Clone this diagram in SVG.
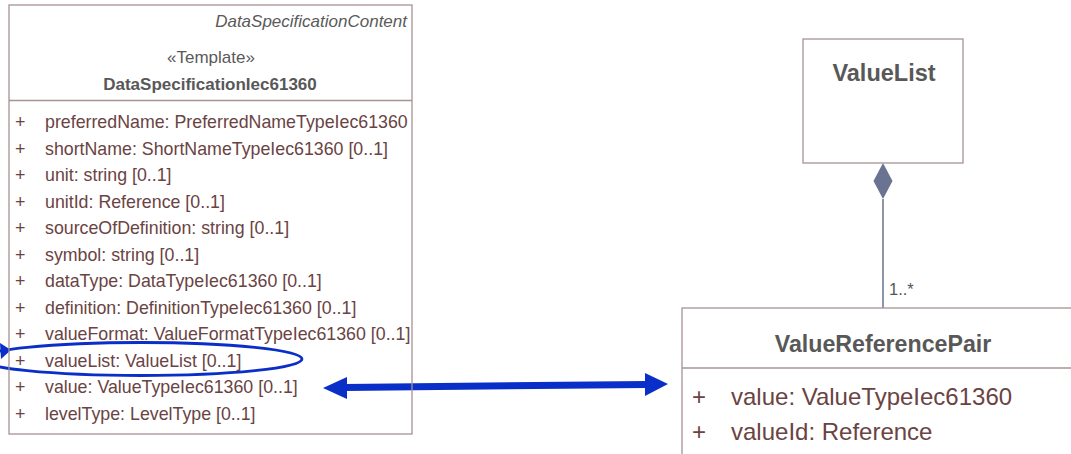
<svg xmlns="http://www.w3.org/2000/svg" width="1071" height="454" viewBox="0 0 1071 454">
  <style>
    .box { fill: none; stroke: #a89393; stroke-width: 1.3; }
    .boxw { fill: #ffffff; stroke: #a89393; stroke-width: 1.3; }
    .sep { stroke: #a89393; stroke-width: 1.3; }
    .hdr { font-family: "Liberation Sans", Arial, sans-serif; fill: #5a5a5a; }
    .ttl { font-family: "Liberation Sans", Arial, sans-serif; font-weight: bold; fill: #585858; }
    .att { font-family: "Liberation Sans", Arial, sans-serif; fill: #6a4343; }
    .mult { font-family: "Liberation Sans", Arial, sans-serif; fill: #555555; font-size: 16.5px; }
    .assoc { stroke: #6a7391; stroke-width: 1.5; fill: none; }
    .hl { stroke: #0a2ec8; fill: none; }
    .hlf { fill: #0a2ec8; }
  </style>

  <rect x="0" y="0" width="1071" height="454" fill="#ffffff"/>

  <!-- highlight marks -->
  <g id="highlights">
    <ellipse class="hl" cx="141" cy="359" rx="161" ry="16.5" stroke-width="2.8"/>
    <polygon class="hlf" points="0,343 11,350 1,359"/>
    <!-- double-headed arrow -->
    <line class="hl" x1="344" y1="387.6" x2="647" y2="384.4" stroke-width="7"/>
    <polygon class="hlf" points="323,388 347,377 347,399"/>
    <polygon class="hlf" points="668,384 645,373 645,396"/>
  </g>

  <!-- connectors -->
  <g id="connectors">
    <line class="assoc" x1="883" y1="199" x2="883" y2="308"/>
    <polygon points="883,163 892.5,181 883,199 873.5,181" fill="#6a7391"/>
    <text class="mult" x="889" y="295">1..*</text>
  </g>

  <!-- DataSpecificationIec61360 -->
  <g id="DataSpecificationIec61360">
    <rect class="box" x="9" y="5" width="403" height="429"/>
    <line class="sep" x1="9" y1="100.5" x2="412" y2="100.5"/>
    <text class="hdr" x="407" y="27" font-size="17" font-style="italic" text-anchor="end">DataSpecificationContent</text>
    <text class="hdr" x="211" y="63" font-size="17" text-anchor="middle">«Template»</text>
    <text class="ttl" x="210" y="90" font-size="17" text-anchor="middle">DataSpecificationIec61360</text>
    <g class="att" font-size="17.8">
      <text x="15" y="128">+</text><text x="45" y="128">preferredName: PreferredNameTypeIec61360</text>
      <text x="15" y="154.5">+</text><text x="45" y="154.5">shortName: ShortNameTypeIec61360 [0..1]</text>
      <text x="15" y="181">+</text><text x="45" y="181">unit: string [0..1]</text>
      <text x="15" y="207.5">+</text><text x="45" y="207.5">unitId: Reference [0..1]</text>
      <text x="15" y="234">+</text><text x="45" y="234">sourceOfDefinition: string [0..1]</text>
      <text x="15" y="260.5">+</text><text x="45" y="260.5">symbol: string [0..1]</text>
      <text x="15" y="287">+</text><text x="45" y="287">dataType: DataTypeIec61360 [0..1]</text>
      <text x="15" y="313.5">+</text><text x="45" y="313.5">definition: DefinitionTypeIec61360 [0..1]</text>
      <text x="15" y="340">+</text><text x="45" y="340">valueFormat: ValueFormatTypeIec61360 [0..1]</text>
      <text x="15" y="366.5">+</text><text x="45" y="366.5">valueList: ValueList [0..1]</text>
      <text x="15" y="393">+</text><text x="45" y="393">value: ValueTypeIec61360 [0..1]</text>
      <text x="15" y="419.5">+</text><text x="45" y="419.5">levelType: LevelType [0..1]</text>
    </g>
  </g>

  <!-- ValueList -->
  <g id="ValueList">
    <rect class="boxw" x="803" y="39" width="160" height="124"/>
    <text class="ttl" x="884" y="81" font-size="23.5" text-anchor="middle">ValueList</text>
  </g>

  <!-- ValueReferencePair -->
  <g id="ValueReferencePair">
    <rect class="boxw" x="682" y="308" width="400" height="160"/>
    <line class="sep" x1="682" y1="368" x2="1071" y2="368"/>
    <text class="ttl" x="883" y="352" font-size="23.2" text-anchor="middle">ValueReferencePair</text>
    <g class="att" font-size="24">
      <text x="692" y="405">+</text><text x="731" y="405">value: ValueTypeIec61360</text>
      <text x="692" y="440">+</text><text x="731" y="440">valueId: Reference</text>
    </g>
  </g>
</svg>
